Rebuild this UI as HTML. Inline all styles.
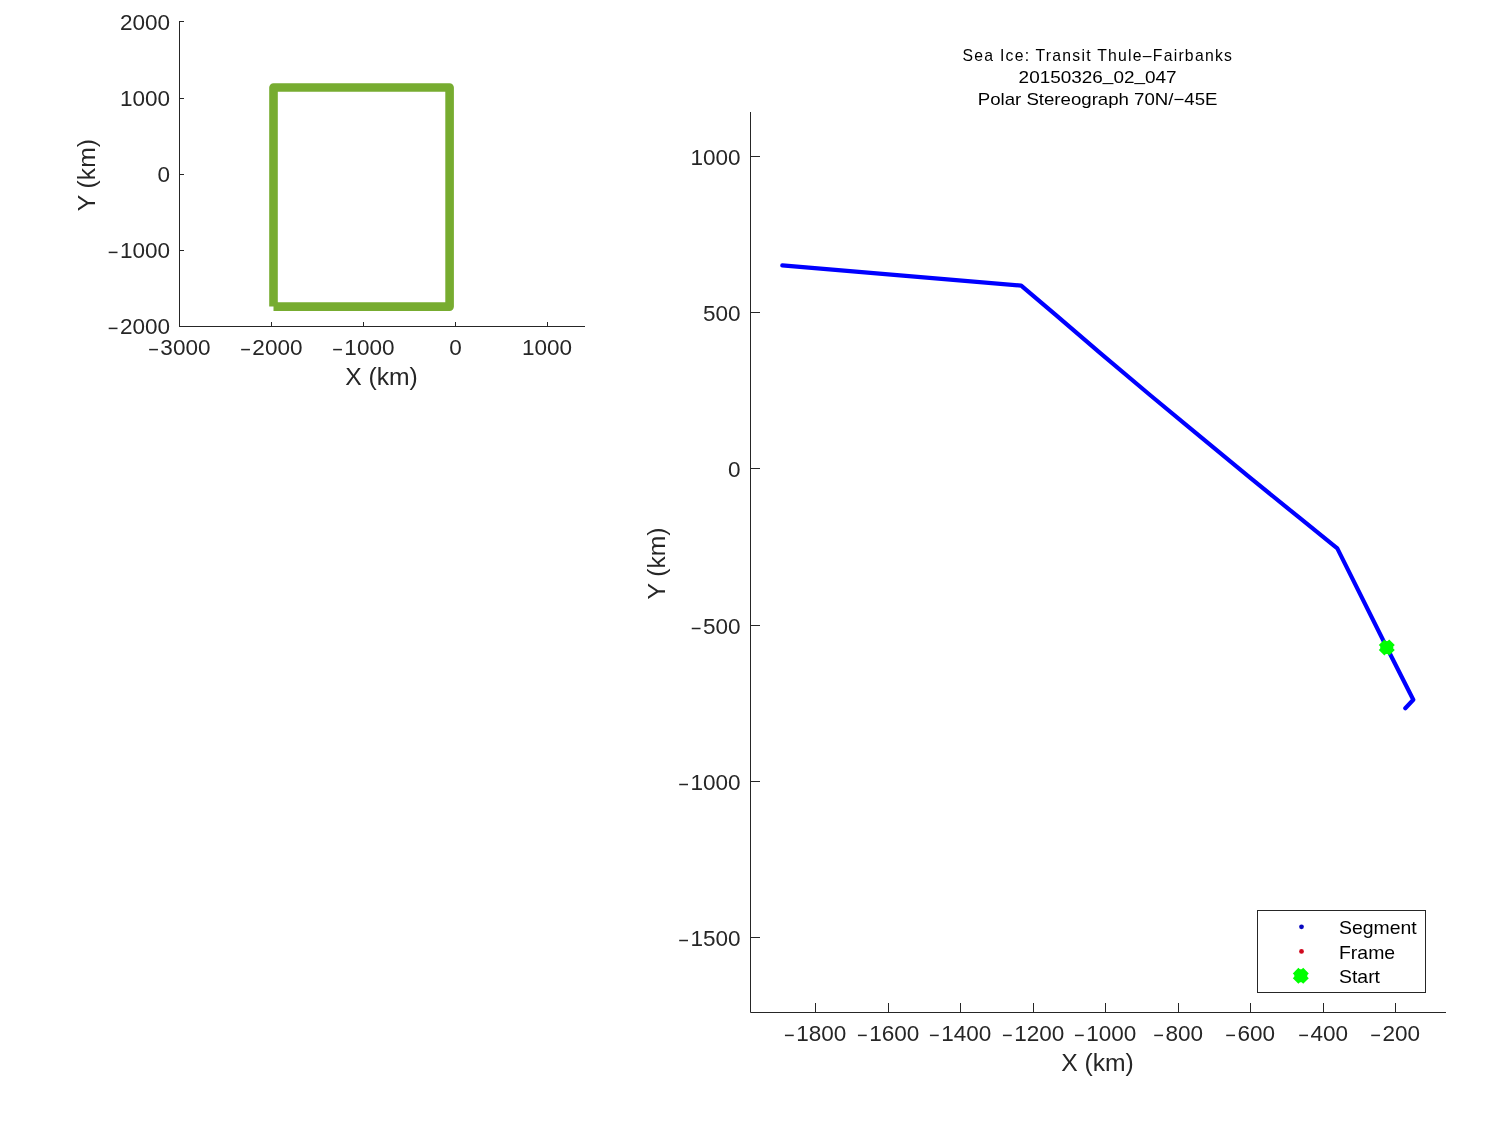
<!DOCTYPE html>
<html><head><meta charset="utf-8"><style>
html,body{margin:0;padding:0;background:#fff;}
svg{display:block;will-change:transform;}
text{font-family:"Liberation Sans",sans-serif;}
</style></head><body>
<svg width="1500" height="1125" viewBox="0 0 1500 1125">
<path d="M179.5,21 V326.5 H585" stroke="#262626" stroke-width="1" fill="none"/>
<line x1="179" x2="184" y1="21.5" y2="21.5" stroke="#262626"/>
<line x1="179" x2="184" y1="98.5" y2="98.5" stroke="#262626"/>
<line x1="179" x2="184" y1="174.5" y2="174.5" stroke="#262626"/>
<line x1="179" x2="184" y1="250.5" y2="250.5" stroke="#262626"/>
<line x1="179.5" x2="179.5" y1="322" y2="327" stroke="#262626"/>
<line x1="271.5" x2="271.5" y1="322" y2="327" stroke="#262626"/>
<line x1="363.5" x2="363.5" y1="322" y2="327" stroke="#262626"/>
<line x1="455.5" x2="455.5" y1="322" y2="327" stroke="#262626"/>
<line x1="547.5" x2="547.5" y1="322" y2="327" stroke="#262626"/>
<text transform="translate(119.90,29.70) scale(1.064,1)" font-size="21.2" text-anchor="start" fill="#262626">2000</text>
<text transform="translate(119.90,105.80) scale(1.064,1)" font-size="21.2" text-anchor="start" fill="#262626">1000</text>
<text transform="translate(157.54,181.80) scale(1.064,1)" font-size="21.2" text-anchor="start" fill="#262626">0</text>
<rect x="108.70" y="251.65" width="8.8" height="1.5" fill="#262626"/>
<text transform="translate(119.90,257.80) scale(1.064,1)" font-size="21.2" text-anchor="start" fill="#262626">1000</text>
<rect x="108.70" y="327.65" width="8.8" height="1.5" fill="#262626"/>
<text transform="translate(119.90,333.80) scale(1.064,1)" font-size="21.2" text-anchor="start" fill="#262626">2000</text>
<rect x="149.15" y="348.85" width="8.8" height="1.5" fill="#262626"/>
<text transform="translate(160.35,355.00) scale(1.064,1)" font-size="21.2" text-anchor="start" fill="#262626">3000</text>
<rect x="241.15" y="348.85" width="8.8" height="1.5" fill="#262626"/>
<text transform="translate(252.35,355.00) scale(1.064,1)" font-size="21.2" text-anchor="start" fill="#262626">2000</text>
<rect x="333.15" y="348.85" width="8.8" height="1.5" fill="#262626"/>
<text transform="translate(344.35,355.00) scale(1.064,1)" font-size="21.2" text-anchor="start" fill="#262626">1000</text>
<text transform="translate(449.13,355.00) scale(1.064,1)" font-size="21.2" text-anchor="start" fill="#262626">0</text>
<text transform="translate(521.89,355.00) scale(1.064,1)" font-size="21.2" text-anchor="start" fill="#262626">1000</text>
<text transform="translate(381.50,384.60) scale(1.05,1)" font-size="23.5" text-anchor="middle" fill="#262626">X (km)</text>
<text transform="translate(95.00,175.20) rotate(-90) scale(1.05,1)" font-size="23.5" text-anchor="middle" fill="#262626">Y (km)</text>
<path d="M273.5,306.6 L449.6,306.6 L449.6,87.5 L273.5,87.5 L273.5,306.6" stroke="#77AC30" stroke-width="8.6" fill="none" stroke-linejoin="round" stroke-linecap="butt"/>
<path d="M750.5,112 V1012.5 H1446" stroke="#262626" stroke-width="1" fill="none"/>
<line x1="750" x2="760" y1="156.5" y2="156.5" stroke="#262626"/>
<text transform="translate(690.40,164.90) scale(1.064,1)" font-size="21.2" text-anchor="start" fill="#262626">1000</text>
<line x1="750" x2="760" y1="312.5" y2="312.5" stroke="#262626"/>
<text transform="translate(702.95,320.90) scale(1.064,1)" font-size="21.2" text-anchor="start" fill="#262626">500</text>
<line x1="750" x2="760" y1="468.5" y2="468.5" stroke="#262626"/>
<text transform="translate(728.04,476.90) scale(1.064,1)" font-size="21.2" text-anchor="start" fill="#262626">0</text>
<line x1="750" x2="760" y1="625.5" y2="625.5" stroke="#262626"/>
<rect x="691.75" y="627.75" width="8.8" height="1.5" fill="#262626"/>
<text transform="translate(702.95,633.90) scale(1.064,1)" font-size="21.2" text-anchor="start" fill="#262626">500</text>
<line x1="750" x2="760" y1="781.5" y2="781.5" stroke="#262626"/>
<rect x="679.20" y="783.75" width="8.8" height="1.5" fill="#262626"/>
<text transform="translate(690.40,789.90) scale(1.064,1)" font-size="21.2" text-anchor="start" fill="#262626">1000</text>
<line x1="750" x2="760" y1="937.5" y2="937.5" stroke="#262626"/>
<rect x="679.20" y="939.75" width="8.8" height="1.5" fill="#262626"/>
<text transform="translate(690.40,945.90) scale(1.064,1)" font-size="21.2" text-anchor="start" fill="#262626">1500</text>
<line x1="815.5" x2="815.5" y1="1003" y2="1013" stroke="#262626"/>
<rect x="784.95" y="1034.65" width="8.8" height="1.5" fill="#262626"/>
<text transform="translate(796.15,1040.80) scale(1.064,1)" font-size="21.2" text-anchor="start" fill="#262626">1800</text>
<line x1="888.5" x2="888.5" y1="1003" y2="1013" stroke="#262626"/>
<rect x="857.95" y="1034.65" width="8.8" height="1.5" fill="#262626"/>
<text transform="translate(869.15,1040.80) scale(1.064,1)" font-size="21.2" text-anchor="start" fill="#262626">1600</text>
<line x1="960.5" x2="960.5" y1="1003" y2="1013" stroke="#262626"/>
<rect x="929.95" y="1034.65" width="8.8" height="1.5" fill="#262626"/>
<text transform="translate(941.15,1040.80) scale(1.064,1)" font-size="21.2" text-anchor="start" fill="#262626">1400</text>
<line x1="1033.5" x2="1033.5" y1="1003" y2="1013" stroke="#262626"/>
<rect x="1002.95" y="1034.65" width="8.8" height="1.5" fill="#262626"/>
<text transform="translate(1014.15,1040.80) scale(1.064,1)" font-size="21.2" text-anchor="start" fill="#262626">1200</text>
<line x1="1105.5" x2="1105.5" y1="1003" y2="1013" stroke="#262626"/>
<rect x="1074.95" y="1034.65" width="8.8" height="1.5" fill="#262626"/>
<text transform="translate(1086.15,1040.80) scale(1.064,1)" font-size="21.2" text-anchor="start" fill="#262626">1000</text>
<line x1="1178.5" x2="1178.5" y1="1003" y2="1013" stroke="#262626"/>
<rect x="1154.22" y="1034.65" width="8.8" height="1.5" fill="#262626"/>
<text transform="translate(1165.42,1040.80) scale(1.064,1)" font-size="21.2" text-anchor="start" fill="#262626">800</text>
<line x1="1250.5" x2="1250.5" y1="1003" y2="1013" stroke="#262626"/>
<rect x="1226.22" y="1034.65" width="8.8" height="1.5" fill="#262626"/>
<text transform="translate(1237.42,1040.80) scale(1.064,1)" font-size="21.2" text-anchor="start" fill="#262626">600</text>
<line x1="1323.5" x2="1323.5" y1="1003" y2="1013" stroke="#262626"/>
<rect x="1299.22" y="1034.65" width="8.8" height="1.5" fill="#262626"/>
<text transform="translate(1310.42,1040.80) scale(1.064,1)" font-size="21.2" text-anchor="start" fill="#262626">400</text>
<line x1="1395.5" x2="1395.5" y1="1003" y2="1013" stroke="#262626"/>
<rect x="1371.22" y="1034.65" width="8.8" height="1.5" fill="#262626"/>
<text transform="translate(1382.42,1040.80) scale(1.064,1)" font-size="21.2" text-anchor="start" fill="#262626">200</text>
<text transform="translate(1097.50,1070.90) scale(1.05,1)" font-size="23.5" text-anchor="middle" fill="#262626">X (km)</text>
<text transform="translate(665.00,563.50) rotate(-90) scale(1.05,1)" font-size="23.5" text-anchor="middle" fill="#262626">Y (km)</text>
<text transform="translate(1097.82,61.00) scale(0.95,1)" font-size="16.6" text-anchor="middle" fill="#000" letter-spacing="1.3">Sea Ice: Transit Thule–Fairbanks</text>
<text transform="translate(1097.60,83.00) scale(1.142,1)" font-size="16.6" text-anchor="middle" fill="#000">20150326<tspan dy="-2.3">_</tspan><tspan dy="2.3">02</tspan><tspan dy="-2.3">_</tspan><tspan dy="2.3">047</tspan></text>
<text transform="translate(1097.60,105.40) scale(1.123,1)" font-size="16.6" text-anchor="middle" fill="#000">Polar Stereograph 70N/−45E</text>
<polyline points="782.3,265.4 900,275.3 1021.2,285.6 1056,315.2 1100,352.8 1150,395 1190,428.2 1250,477.7 1300,518.2 1337.3,548.4 1386.8,647.5 1413.3,699.7 1405.3,708.2" stroke="#0000FF" stroke-width="4.2" fill="none" stroke-linejoin="round" stroke-linecap="round"/>
<path d="M1381.6,642.3 L1392.0,652.7 M1392.0,642.3 L1381.6,652.7" stroke="#00FF00" stroke-width="7.9" fill="none" stroke-linecap="butt"/><circle cx="1386.8" cy="647.5" r="6.5" fill="#00FF00"/>
<rect x="1257.5" y="910.5" width="168" height="82" fill="#fff" stroke="#262626" stroke-width="1"/>
<circle cx="1301.5" cy="926.8" r="2.4" fill="#0808C0"/>
<circle cx="1301.5" cy="951.4" r="2.4" fill="#D0081E"/>
<path d="M1295.6,970.5999999999999 L1306.0,981.0 M1306.0,970.5999999999999 L1295.6,981.0" stroke="#00FF00" stroke-width="7.9" fill="none" stroke-linecap="butt"/><circle cx="1300.8" cy="975.8" r="6.5" fill="#00FF00"/>
<text transform="translate(1339.00,933.90) scale(1.08,1)" font-size="18" text-anchor="start" fill="#000">Segment</text>
<text transform="translate(1339.00,959.00) scale(1.08,1)" font-size="18" text-anchor="start" fill="#000">Frame</text>
<text transform="translate(1339.00,982.90) scale(1.08,1)" font-size="18" text-anchor="start" fill="#000">Start</text>
</svg>
</body></html>
